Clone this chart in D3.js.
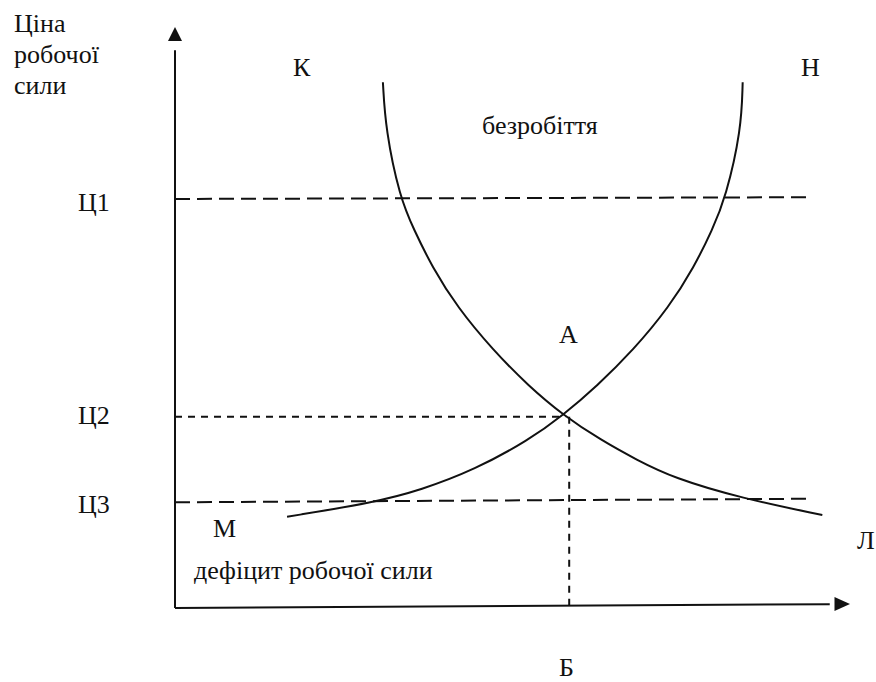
<!DOCTYPE html>
<html lang="uk">
  <head>
    <meta charset="UTF-8" />
    <title>Ринок праці</title>
    <script src="https://d3js.org/d3.v7.min.js"></script>
    <style>
      body {
        margin: 0;
        background: #fff;
      }
      text {
        font-family: "Liberation Serif", "Times New Roman", serif;
        font-size: 26px;
        fill: #111;
      }
    </style>
  </head>
  <body>
    <svg width="876" height="682"></svg>

    <script>
      // curve К-Л (demand), in 0..100 units
      const demandX = [30.8, 31.2, 33.3, 35.4, 38.1, 41.8, 47.1, 52.4, 57.5, 63.1, 68.4, 73.8, 83.9, 95.9];
      const demandY = [90.5, 82.3, 70.7, 65.1, 58.7, 51.8, 44.4, 38.2, 33.2, 28.9, 25.5, 22.4, 18.9, 16.0];

      // curve М-Н (supply)
      const supplyX = [16.6, 29.6, 36.4, 44.4, 52.4, 57.5, 62.5, 67.9, 73.2, 76.9, 79.6, 81.6, 83.9, 84.1];
      const supplyY = [15.7, 18.2, 20.3, 23.8, 28.9, 33.2, 38.2, 44.4, 51.8, 58.7, 65.1, 70.7, 82.3, 90.5];

      // price levels
      const priceLabels = ["Ц1", "Ц2", "Ц3"];
      const priceStart = [70.4, 32.9, 18.2];
      const priceEnd = [70.7, 32.9, 18.8];
      const priceEndX = [93.6, 57.8, 93.6];

      // equilibrium quantity
      const eqX = 58.4;
      const eqY = 32.9;

      const svg = d3.select("svg");

      const x = d3.scaleLinear().domain([0, 100]).range([175, 850]);
      const y = d3.scaleLinear().domain([0, 100]).range([608, 27]);

      const line = d3
        .line()
        .x((d) => x(d[0]))
        .y((d) => y(d[1]))
        .curve(d3.curveBasis);

      // dashed price lines
      priceLabels.forEach((lab, i) => {
        svg
          .append("line")
          .attr("x1", x(0))
          .attr("y1", y(priceStart[i]))
          .attr("x2", x(priceEndX[i]))
          .attr("y2", y(priceEnd[i]))
          .attr("stroke", "#111")
          .attr("stroke-width", 2)
          .attr("stroke-dasharray", i === 1 ? "7,6" : "15,7");

        svg
          .append("text")
          .attr("x", 78)
          .attr("y", y(priceStart[i]) + [12, 7, 11][i])
          .text(lab);
      });

      // vertical dashed line to Б
      svg
        .append("line")
        .attr("x1", x(eqX))
        .attr("y1", y(eqY))
        .attr("x2", x(eqX))
        .attr("y2", y(0.5))
        .attr("stroke", "#111")
        .attr("stroke-width", 2)
        .attr("stroke-dasharray", "7,6");

      // curves
      svg
        .append("path")
        .datum(d3.zip(demandX, demandY))
        .attr("fill", "none")
        .attr("stroke", "#111")
        .attr("stroke-width", 2)
        .attr("d", line);

      svg
        .append("path")
        .datum(d3.zip(supplyX, supplyY))
        .attr("fill", "none")
        .attr("stroke", "#111")
        .attr("stroke-width", 2)
        .attr("d", line);

      // axes with arrow heads
      svg
        .append("line")
        .attr("x1", x(0))
        .attr("y1", y(0))
        .attr("x2", x(0))
        .attr("y2", y(96))
        .attr("stroke", "#111")
        .attr("stroke-width", 2);
      svg
        .append("path")
        .attr("d", `M${x(0)},${y(100)} L${x(0) - 7},${y(97.6)} L${x(0) + 7},${y(97.6)} Z`)
        .attr("fill", "#111");

      svg
        .append("line")
        .attr("x1", x(0))
        .attr("y1", y(0))
        .attr("x2", x(97))
        .attr("y2", y(0.66))
        .attr("stroke", "#111")
        .attr("stroke-width", 2);
      svg
        .append("path")
        .attr("d", `M${x(100)},${y(0.7)} L${x(97.7)},${y(0.7) - 7} L${x(97.7)},${y(0.7) + 7} Z`)
        .attr("fill", "#111");

      // labels
      const yTitle = svg.append("text").attr("x", 14).attr("y", 32);
      ["Ціна", "робочої", "сили"].forEach((t, i) => {
        yTitle
          .append("tspan")
          .attr("x", 14)
          .attr("dy", i === 0 ? 0 : 31)
          .text(t);
      });

      const notes = [
        ["К", 293, 76],
        ["Н", 801, 76],
        ["безробіття", 482, 134],
        ["А", 559, 343],
        ["М", 213, 537],
        ["дефіцит робочої сили", 194, 579],
        ["Л", 857, 549],
        ["Б", 559, 676],
      ];
      notes.forEach(([t, px, py]) => {
        svg.append("text").attr("x", px).attr("y", py).text(t);
      });
    </script>
  </body>
</html>
